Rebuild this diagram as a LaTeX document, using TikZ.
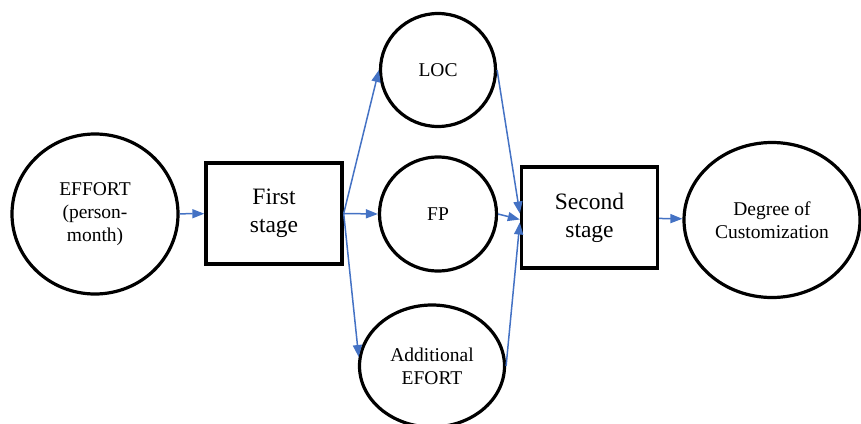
\documentclass[tikz,border=0pt]{standalone}
\usepackage{fontspec}
\setmainfont{Liberation Serif}
\usetikzlibrary{shapes.geometric, arrows.meta}
\definecolor{flowblue}{RGB}{68,114,196}
\tikzstyle{bubble} = [ellipse, draw=black, line width=3.2pt, inner sep=0pt, align=center, font=\fontsize{19.5}{23}\selectfont]
\tikzstyle{stagebox} = [rectangle, draw=black, line width=3.4pt, minimum width=136pt, minimum height=101pt, inner sep=0pt, align=center, font=\fontsize{23.5}{28}\selectfont]
\tikzstyle{flow} = [flowblue, line width=1.5pt, -{Triangle[length=12pt,width=9pt]}]

\begin{document}
\begin{tikzpicture}[x=1pt, y=-1pt]
      \useasboundingbox (0,0) rectangle (861,423);
      % inputs and stages
      \node[bubble, minimum width=166pt, minimum height=160pt] (effort) at (95,214) {EFFORT\\(person-\\month)};
      \node[stagebox] (first) at (274,213.5) {First\\stage};
      \node[bubble, minimum width=115pt, minimum height=113pt] (loc) at (438,70) {LOC};
      \node[bubble, minimum width=117pt, minimum height=114pt] (fp) at (438,214) {FP};
      \node[bubble, minimum width=145pt, minimum height=122pt] (add) at (432,366) {Additional\\EFORT};
      \node[stagebox] (second) at (589.5,217.5) {Second\\stage};
      \node[bubble, minimum width=176pt, minimum height=155pt] (degree) at (772,220) {Degree of\\Customization};
      % connectors
      \draw[flow] (effort) -- (first);
      \draw[flow] (first.east) -- (loc.west);
      \draw[flow] (first.east) -- (fp.west);
      \draw[flow] (first.east) -- (add.173);
      \draw[flow] (loc.east) -- ([yshift=4pt]second.west);
      \draw[flow] (fp.east) -- ([yshift=-2pt]second.west);
      \draw[flow] (add.east) -- ([yshift=-5pt]second.west);
      \draw[flow] (second) -- (degree);
\end{tikzpicture}
\end{document}
